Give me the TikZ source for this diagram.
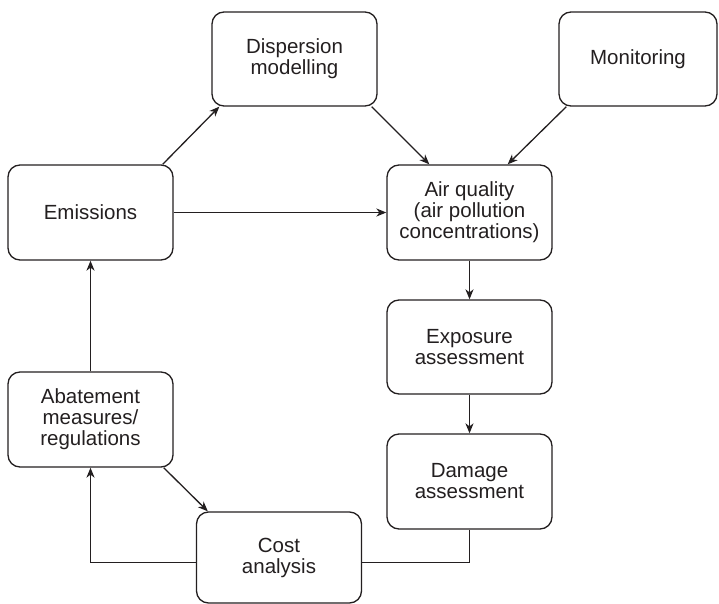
\documentclass[tikz,border=0pt]{standalone}
\usepackage{fontspec}
\setmainfont{Liberation Sans}
\usetikzlibrary{arrows.meta}
\definecolor{ink}{HTML}{231F20}
\begin{document}
\begin{tikzpicture}[x=1pt,y=-1pt,
  box/.style={draw=ink, line width=1.3pt, rounded corners=12pt, minimum width=165pt, minimum height=95pt, align=center, inner sep=2pt, font=\fontsize{20.5}{21}\selectfont, text=ink},
  conn/.style={draw=ink, line width=1.3pt, -{Stealth[length=10pt,width=8pt,inset=3pt]}}]
\useasboundingbox (0,0) rectangle (719,604);
\node[box, minimum height=94pt] (disp) at (294.5,59) {Dispersion\\modelling};
\node[box, minimum width=158pt, minimum height=94pt] (mon) at (638,59) {Monitoring};
\node[box] (emis) at (90.5,212.5) {Emissions};
\node[box] (air) at (469.5,212.5) {Air quality\\(air pollution\\concentrations)};
\node[box, minimum height=94pt] (exp) at (469.5,347) {Exposure\\assessment};
\node[box] (dam) at (469.5,481.5) {Damage\\assessment};
\node[box] (aba) at (90.5,419.5) {Abatement\\measures/\\regulations};
\node[box, minimum height=91pt] (cost) at (279,557.5) {Cost\\analysis};
\draw[conn] ([xshift=-11pt]emis.north east) -- ([xshift=8pt]disp.south west);
\draw[conn] ([xshift=-6pt]disp.south east) -- ([xshift=43pt]air.north west);
\draw[conn] ([xshift=8pt]mon.south west) -- ([xshift=-45pt]air.north east);
\draw[conn] (emis.east) -- (air.west);
\draw[conn] (air.south) -- (exp.north);
\draw[conn] (exp.south) -- (dam.south |- dam.north);
\draw[draw=ink, line width=1.3pt] (dam.south) |- ([yshift=-5pt]cost.east);
\draw[conn] ([xshift=-10pt]aba.south east) -- ([xshift=12pt]cost.north west);
\draw[conn] ([yshift=-5pt]cost.west) -| (aba.south);
\draw[conn] (aba.north) -- (emis.south);
\end{tikzpicture}
\end{document}
